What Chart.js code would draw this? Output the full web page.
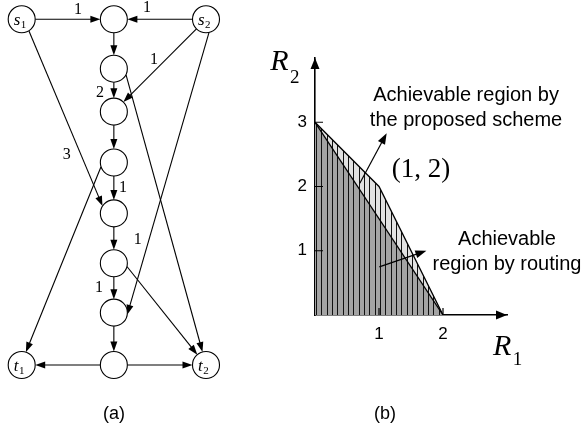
<!DOCTYPE html>
<html>
<head>
  <meta charset="utf-8">
  <title>Network (a) and achievable rate region (b)</title>
  <script src="https://cdn.jsdelivr.net/npm/chart.js@4.4.1/dist/chart.umd.min.js"></script>
  <style>
    * { margin: 0; padding: 0; box-sizing: border-box; }
    body { width: 586px; height: 432px; background: #fff; position: relative; overflow: hidden; }
    #netChart { position: absolute; left: 0; top: 0; }
    #regionChart { position: absolute; left: 250px; top: 0; }
  </style>
</head>
<body>
<canvas id="netChart" width="250" height="432"></canvas>
<canvas id="regionChart" width="336" height="432"></canvas>

<script>
  // ---- (a) network: nodes placed by column (0..2) and layer (0..7)
  const nodeNames = ['s1', 'n1', 's2', 'n2', 'n3', 'n4', 'n5', 'n6', 'n7', 'n8', 't1', 't2'];
  const nodeCol   = [0, 1, 2, 1, 1, 1, 1, 1, 1, 1, 0, 2];
  const nodeLayer = [0, 0, 0, 1, 1.87, 2.9, 3.93, 4.94, 5.94, 7, 7, 7];
  const nodeText  = { s1: ['s', '1'], s2: ['s', '2'], t1: ['t', '1'], t2: ['t', '2'] };

  const edgeFrom  = ['s1', 's2', 'n1', 'n2', 'n3', 'n4', 'n5', 'n6', 'n7', 's2', 's1', 's2', 'n4', 'n2', 'n6', 'n8', 'n8'];
  const edgeTo    = ['n1', 'n1', 'n2', 'n3', 'n4', 'n5', 'n6', 'n7', 'n8', 'n3', 'n5', 'n7', 't1', 't2', 't2', 't1', 't2'];
  // where an edge leaves / enters a circle (degrees), null = straight between centres
  const edgePorts = [null, null, null, null, null, null, null, null, null, null,
                     [58, 213], [77, 9], [162, -72], [26, -105], [14, -130], null, null];

  // capacity labels on the edges
  const capText  = ['1', '1', '1', '2', '3', '1', '1', '1'];
  const capCol   = [0.611, 1.36, 1.435, 0.85, 0.49, 1.1, 1.26, 0.84];
  const capLayer = [-0.19, -0.23, 0.82, 1.49, 2.75, 3.42, 4.47, 5.44];

  // ---- (b) rate regions
  const schemeR1  = [0, 1, 2];
  const schemeR2  = [3, 2, 0];
  const routingR1 = [0, 2];
  const routingR2 = [3, 0];
  const xTicks = [1, 2];
  const yTicks = [1, 2, 3];

  const SERIF = '"Liberation Serif", "Times New Roman", serif';
  const SANS = '"Liberation Sans", Arial, sans-serif';
  const R = 13.5;

  function arrowLine(ctx, x1, y1, x2, y2, len, half) {
    const a = Math.atan2(y2 - y1, x2 - x1);
    const c = Math.cos(a), s = Math.sin(a);
    ctx.beginPath();
    ctx.moveTo(x1, y1);
    ctx.lineTo(x2 - len * 0.8 * c, y2 - len * 0.8 * s);
    ctx.stroke();
    ctx.beginPath();
    ctx.moveTo(x2, y2);
    ctx.lineTo(x2 - len * c + half * s, y2 - len * s - half * c);
    ctx.lineTo(x2 - len * c - half * s, y2 - len * s + half * c);
    ctx.closePath();
    ctx.fill();
  }

  function nodePixel(chart, name) {
    const i = nodeNames.indexOf(name);
    return {
      x: chart.scales.x.getPixelForValue(nodeCol[i]),
      y: chart.scales.y.getPixelForValue(nodeLayer[i])
    };
  }

  const edgePlugin = {
    id: 'edges',
    beforeDatasetsDraw(chart) {
      const ctx = chart.ctx;
      ctx.save();
      ctx.strokeStyle = '#000';
      ctx.fillStyle = '#000';
      ctx.lineWidth = 1.1;
      edgeFrom.forEach((f, i) => {
        const p = nodePixel(chart, f);
        const q = nodePixel(chart, edgeTo[i]);
        let a1, a2;
        if (edgePorts[i]) {
          a1 = edgePorts[i][0] * Math.PI / 180;
          a2 = edgePorts[i][1] * Math.PI / 180;
        } else {
          a1 = Math.atan2(q.y - p.y, q.x - p.x);
          a2 = a1 + Math.PI;
        }
        arrowLine(ctx,
          p.x + R * Math.cos(a1), p.y + R * Math.sin(a1),
          q.x + R * Math.cos(a2), q.y + R * Math.sin(a2), 10, 3.5);
      });
      ctx.restore();
    },
    afterDatasetsDraw(chart) {
      const ctx = chart.ctx;
      const {x, y} = chart.scales;
      ctx.save();
      ctx.fillStyle = '#000';
      ctx.font = '16px ' + SERIF;
      ctx.textAlign = 'center';
      ctx.textBaseline = 'middle';
      capText.forEach((t, i) => {
        ctx.fillText(t, x.getPixelForValue(capCol[i]), y.getPixelForValue(capLayer[i]));
      });
      // node names with subscripts
      Object.keys(nodeText).forEach(name => {
        const p = nodePixel(chart, name);
        const [main, sub] = nodeText[name];
        ctx.textAlign = 'left';
        ctx.textBaseline = 'alphabetic';
        ctx.font = 'italic 17px ' + SERIF;
        const w = ctx.measureText(main).width;
        const left = p.x - 8;
        ctx.fillText(main, left, p.y + 6);
        ctx.font = '11px ' + SERIF;
        ctx.fillText(sub, left + w + 0.5, p.y + 8.5);
      });
      ctx.font = '18px ' + SANS;
      ctx.textAlign = 'center';
      ctx.fillText('(a)', 114, 419);
      ctx.restore();
    }
  };

  new Chart(document.getElementById('netChart'), {
    type: 'scatter',
    data: {
      datasets: [{
        data: nodeNames.map((n, i) => ({x: nodeCol[i], y: nodeLayer[i]})),
        pointRadius: R,
        pointHoverRadius: R,
        pointBackgroundColor: '#fff',
        pointBorderColor: '#000',
        pointBorderWidth: 1.1,
        clip: false
      }]
    },
    options: {
      responsive: false,
      animation: false,
      events: [],
      layout: { padding: { left: 21.7, right: 44, top: 19.3, bottom: 67 } },
      scales: {
        x: { type: 'linear', min: 0, max: 2, display: false },
        y: { type: 'linear', min: 0, max: 7, reverse: true, display: false }
      },
      plugins: { legend: { display: false }, tooltip: { enabled: false } }
    },
    plugins: [edgePlugin]
  });

  // ---- (b)
  function hatch(bg) {
    const c = document.createElement('canvas');
    c.width = 16; c.height = 4;
    const g = c.getContext('2d');
    g.fillStyle = bg;
    g.fillRect(0, 0, 16, 4);
    g.fillStyle = '#111';
    [2, 7, 13].forEach(x => g.fillRect(x, 0, 1, 4));
    return g.createPattern(c, 'repeat');
  }

  const regionPlugin = {
    id: 'regionExtras',
    afterDraw(chart) {
      const ctx = chart.ctx;
      const {x, y} = chart.scales;
      const area = chart.chartArea;
      const X = v => x.getPixelForValue(v);
      const Y = v => y.getPixelForValue(v);
      ctx.save();
      ctx.strokeStyle = '#000';
      ctx.fillStyle = '#000';
      ctx.lineWidth = 1.2;

      // axis arrow heads
      ctx.beginPath();
      ctx.moveTo(area.left, area.top);
      ctx.lineTo(area.left - 4.5, area.top + 11);
      ctx.lineTo(area.left + 4.5, area.top + 11);
      ctx.closePath();
      ctx.fill();
      ctx.beginPath();
      ctx.moveTo(area.right, area.bottom);
      ctx.lineTo(area.right - 11, area.bottom - 4.5);
      ctx.lineTo(area.right - 11, area.bottom + 4.5);
      ctx.closePath();
      ctx.fill();

      // inner tick marks
      ctx.beginPath();
      yTicks.forEach(v => { ctx.moveTo(area.left, Y(v)); ctx.lineTo(area.left + 8, Y(v)); });
      xTicks.forEach(v => { ctx.moveTo(X(v), area.bottom); ctx.lineTo(X(v), area.bottom - 7); });
      ctx.stroke();

      // pointer arrows
      ctx.lineWidth = 1.2;
      arrowLine(ctx, X(0.70), Y(2.05), X(1.12), Y(2.83), 11, 4);
      arrowLine(ctx, X(1.005), Y(0.75), X(1.74), Y(1.0), 11, 4);

      // texts
      ctx.textBaseline = 'alphabetic';
      ctx.textAlign = 'center';
      ctx.font = '20px ' + SANS;
      ctx.fillText('Achievable region by', X(2.36), Y(3.335));
      ctx.fillText('the proposed scheme', X(2.36), Y(2.946));
      ctx.fillText('Achievable', X(3.0), Y(1.09));
      ctx.fillText('region by routing', X(3.0), Y(0.70));
      ctx.font = '27px ' + SERIF;
      ctx.fillText('(1, 2)', X(1.656), Y(2.148));

      // axis titles R2 / R1
      ctx.textAlign = 'left';
      ctx.font = 'italic 30px ' + SERIF;
      ctx.fillText('R', X(-0.70), Y(3.81));
      ctx.fillText('R', X(2.78), Y(-0.62));
      ctx.font = '19px ' + SERIF;
      ctx.fillText('2', X(-0.39), Y(3.61));
      ctx.fillText('1', X(3.09), Y(-0.78));

      ctx.font = '18px ' + SANS;
      ctx.textAlign = 'center';
      ctx.fillText('(b)', 135, 419);
      ctx.restore();
    }
  };

  const tickFont = { family: SANS, size: 17 };

  new Chart(document.getElementById('regionChart'), {
    type: 'line',
    data: {
      datasets: [
        {
          label: 'Achievable region by routing',
          data: routingR1.map((v, i) => ({x: v, y: routingR2[i]})),
          borderColor: '#000',
          borderWidth: 1.3,
          backgroundColor: hatch('#a4a4a4'),
          fill: 'origin',
          pointRadius: 0,
          tension: 0
        },
        {
          label: 'Achievable region by the proposed scheme',
          data: schemeR1.map((v, i) => ({x: v, y: schemeR2[i]})),
          borderColor: '#000',
          borderWidth: 1.3,
          backgroundColor: hatch('#e2e2e2'),
          fill: 'origin',
          pointRadius: 0,
          tension: 0
        }
      ]
    },
    options: {
      responsive: false,
      animation: false,
      events: [],
      layout: { padding: { left: 0, right: 79, top: 58, bottom: 0 } },
      scales: {
        x: {
          type: 'linear', min: 0, max: 3,
          afterFit: s => { s.height = 117; },
          afterBuildTicks: s => { s.ticks = xTicks.map(v => ({value: v})); },
          grid: { display: false, drawTicks: false },
          border: { display: true, color: '#000', width: 1.4 },
          ticks: { color: '#000', font: tickFont, padding: 9, maxRotation: 0 }
        },
        y: {
          type: 'linear', min: 0, max: 4,
          afterFit: s => { s.width = 65; },
          afterBuildTicks: s => { s.ticks = yTicks.map(v => ({value: v})); },
          grid: { display: false, drawTicks: false },
          border: { display: true, color: '#000', width: 1.6 },
          ticks: { color: '#000', font: tickFont, padding: 8 }
        }
      },
      plugins: { legend: { display: false }, tooltip: { enabled: false } }
    },
    plugins: [regionPlugin]
  });
</script>
</body>
</html>
